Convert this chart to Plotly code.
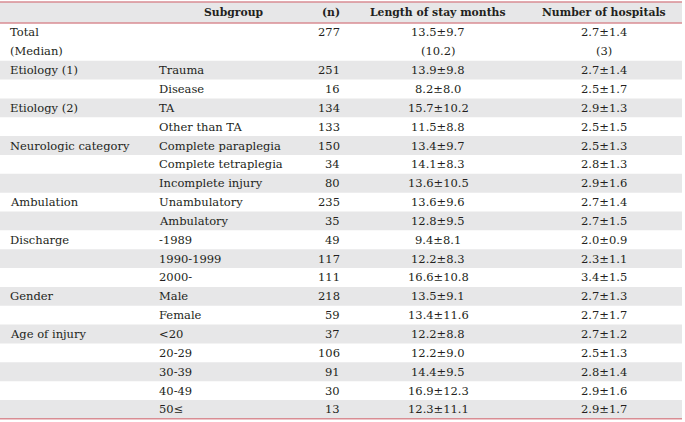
import plotly.graph_objects as go

categories = ["Total", "(Median)", "Etiology (1)", "", "Etiology (2)", "",
              "Neurologic category", "", "", "Ambulation", "",
              "Discharge", "", "", "Gender", "", "Age of injury", "", "", "", ""]
subgroups = ["", "", "Trauma", "Disease", "TA", "Other than TA",
             "Complete paraplegia", "Complete tetraplegia", "Incomplete injury",
             "Unambulatory", "Ambulatory", "-1989", "1990-1999", "2000-",
             "Male", "Female", "<20", "20-29", "30-39", "40-49", "50≤"]
n_values = ["277", "", "251", "16", "134", "133", "150", "34", "80", "235", "35",
            "49", "117", "111", "218", "59", "37", "106", "91", "30", "13"]
length_of_stay = ["13.5±9.7", "(10.2)", "13.9±9.8", "8.2±8.0", "15.7±10.2", "11.5±8.8",
                  "13.4±9.7", "14.1±8.3", "13.6±10.5", "13.6±9.6", "12.8±9.5",
                  "9.4±8.1", "12.2±8.3", "16.6±10.8", "13.5±9.1", "13.4±11.6",
                  "12.2±8.8", "12.2±9.0", "14.4±9.5", "16.9±12.3", "12.3±11.1"]
num_hospitals = ["2.7±1.4", "(3)", "2.7±1.4", "2.5±1.7", "2.9±1.3", "2.5±1.5",
                 "2.5±1.3", "2.8±1.3", "2.9±1.6", "2.7±1.4", "2.7±1.5",
                 "2.0±0.9", "2.3±1.1", "3.4±1.5", "2.7±1.3", "2.7±1.7",
                 "2.7±1.2", "2.5±1.3", "2.8±1.4", "2.9±1.6", "2.9±1.7"]
headers = ["", "Subgroup", "(n)", "Length of stay months", "Number of hospitals"]

# layout (pixel units on the axes)
W, H = 685, 422
TABLE_RIGHT = 682
TOP = 2
HEAD_BOTTOM = 23
ROW_H = 18.85
GRAY = "#e7e7e8"
PINK = "#d98d93"
TXT = "#231f20"
FONT = "DejaVu Serif"

col_body = [(8, "left"), (157, "left"), (342, "right"), (438, "center"), (604, "center")]
col_head = [(8, "left"), (233, "center"), (342, "right"), (438, "center"), (604, "center")]
columns = [categories, subgroups, n_values, length_of_stay, num_hospitals]

fig = go.Figure()
shapes = []
annotations = []

shapes.append(dict(type="rect", xref="x", yref="y", x0=0, x1=TABLE_RIGHT,
                   y0=TOP, y1=HEAD_BOTTOM, fillcolor=GRAY, line=dict(width=0), layer="below"))
n_rows = len(subgroups)
for i in range(n_rows):
    if i >= 2 and i % 2 == 0:
        y0 = HEAD_BOTTOM + ROW_H * i
        shapes.append(dict(type="rect", xref="x", yref="y", x0=0, x1=TABLE_RIGHT,
                           y0=y0, y1=y0 + ROW_H, fillcolor=GRAY, line=dict(width=0),
                           layer="below"))

bottom = HEAD_BOTTOM + ROW_H * n_rows
for yy in [TOP, HEAD_BOTTOM, bottom]:
    shapes.append(dict(type="line", xref="x", yref="y", x0=0, x1=TABLE_RIGHT,
                       y0=yy, y1=yy, line=dict(color=PINK, width=1.5)))

for (x, anc), h in zip(col_head, headers):
    if h:
        annotations.append(dict(x=x, y=(TOP + HEAD_BOTTOM) / 2, xref="x", yref="y",
                                text=f"<b>{h}</b>", showarrow=False, xanchor=anc,
                                yanchor="middle",
                                font=dict(family=FONT, size=10.8, color=TXT)))

for (x, anc), col in zip(col_body, columns):
    for i, val in enumerate(col):
        if not val:
            continue
        yc = HEAD_BOTTOM + ROW_H * (i + 0.5)
        annotations.append(dict(x=x, y=yc, xref="x", yref="y",
                                text=val.replace("<", "&lt;"), showarrow=False,
                                xanchor=anc, yanchor="middle",
                                font=dict(family=FONT, size=11.5, color=TXT)))

fig.add_trace(go.Scatter(x=[0, W], y=[0, H], mode="markers",
                         marker=dict(opacity=0), hoverinfo="skip", showlegend=False))

fig.update_layout(
    width=W, height=H, margin=dict(l=0, r=0, t=0, b=0),
    paper_bgcolor="white", plot_bgcolor="white",
    xaxis=dict(range=[0, W], visible=False, fixedrange=True),
    yaxis=dict(range=[H, 0], visible=False, fixedrange=True),
    shapes=shapes, annotations=annotations,
)
fig.write_html("out.html", config={"displayModeBar": False},
               post_script="document.body.style.margin='0';document.body.style.overflow='hidden';")
